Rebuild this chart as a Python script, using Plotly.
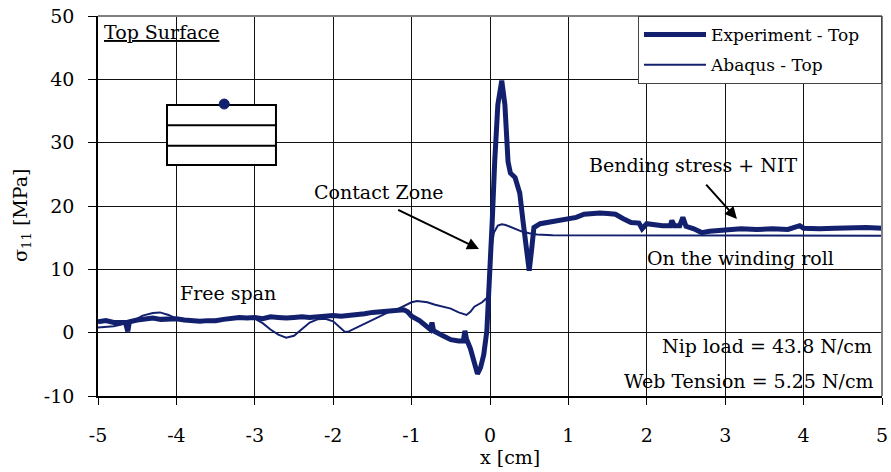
import plotly.graph_objects as go

# ---- data ----
exp_x = [-5.0, -4.9, -4.8, -4.7, -4.65, -4.62, -4.6, -4.5, -4.4, -4.3, -4.2, -4.1, -4.0,
         -3.9, -3.8, -3.7, -3.6, -3.5, -3.4, -3.3, -3.2, -3.1, -3.0, -2.9, -2.8, -2.7,
         -2.6, -2.5, -2.4, -2.3, -2.2, -2.1, -2.0, -1.9, -1.8, -1.7, -1.6, -1.5, -1.4,
         -1.3, -1.2, -1.1, -1.05, -1.0, -0.9, -0.8, -0.76, -0.74, -0.72, -0.6, -0.5,
         -0.4, -0.34, -0.32, -0.3, -0.25, -0.2, -0.16, -0.12, -0.08, -0.04, 0.0, 0.03,
         0.06, 0.1, 0.15, 0.19, 0.23, 0.26, 0.32, 0.38, 0.42, 0.47, 0.5, 0.53, 0.56,
         0.64, 0.75, 0.9, 1.0, 1.1, 1.2, 1.3, 1.4, 1.5, 1.6, 1.7, 1.8, 1.9, 1.94, 2.0,
         2.1, 2.2, 2.3, 2.32, 2.35, 2.42, 2.46, 2.5, 2.6, 2.7, 2.8, 2.9, 3.0, 3.2, 3.4,
         3.6, 3.8, 3.95, 4.0, 4.2, 4.4, 4.6, 4.8, 5.0]
exp_y = [1.7, 1.9, 1.6, 1.7, 1.6, 0.2, 1.7, 2.0, 2.1, 2.3, 2.1, 2.2, 2.2,
         2.0, 1.9, 1.8, 1.9, 1.9, 2.1, 2.3, 2.4, 2.3, 2.4, 2.2, 2.5, 2.4,
         2.3, 2.4, 2.5, 2.4, 2.5, 2.6, 2.7, 2.6, 2.7, 2.9, 3.0, 3.2, 3.3,
         3.4, 3.5, 3.6, 3.3, 2.6, 1.9, 0.9, 0.5, 1.6, 0.3, -0.5, -1.1,
         -1.3, -1.3, 0.3, -1.0, -2.5, -4.5, -6.5, -5.5, -3.5, 0.3, 9.5, 18.0,
         27.0, 36.0, 39.8, 36.0, 27.0, 25.2, 24.5, 22.0, 17.7, 12.5, 9.8, 13.0, 16.6,
         17.2, 17.4, 17.7, 18.0, 18.2, 18.7, 18.8, 18.9, 18.8, 18.7, 18.0, 17.4, 17.3, 16.4, 17.2,
         17.0, 16.9, 16.9, 17.7, 16.9, 16.9, 18.2, 16.8, 16.4, 15.8, 16.0, 16.1, 16.2, 16.4, 16.3,
         16.4, 16.3, 16.9, 16.5, 16.4, 16.5, 16.6, 16.6, 16.5]

abq_x = [-5.0, -4.8, -4.7, -4.6, -4.5, -4.43, -4.3, -4.21, -4.1, -4.0, -3.9, -3.8, -3.6,
         -3.4, -3.2, -3.0, -2.9, -2.8, -2.7, -2.6, -2.5, -2.4, -2.3, -2.2, -2.1, -2.0,
         -1.9, -1.85, -1.8, -1.7, -1.6, -1.5, -1.4, -1.3, -1.2, -1.1, -1.0, -0.93, -0.8,
         -0.7, -0.6, -0.5, -0.4, -0.35, -0.3, -0.25, -0.2, -0.1, -0.03, 0.0, 0.05, 0.1,
         0.15, 0.2, 0.3, 0.4, 0.5, 0.6, 0.8, 1.0, 2.0, 3.0, 4.0, 5.0]
abq_y = [0.8, 1.0, 1.3, 1.7, 2.2, 2.7, 3.1, 3.2, 2.8, 2.2, 1.9, 1.8, 1.9,
         2.1, 2.3, 2.2, 1.5, 0.5, -0.3, -0.8, -0.5, 0.6, 1.6, 2.1, 2.2, 1.8,
         0.7, 0.1, 0.2, 0.8, 1.5, 2.1, 2.7, 3.2, 3.6, 4.2, 4.8, 5.0, 4.8,
         4.4, 4.1, 3.8, 3.2, 3.0, 2.8, 3.3, 4.1, 4.8, 5.6, 12.0, 15.8, 16.9,
         17.1, 17.0, 16.5, 16.0, 15.7, 15.5, 15.4, 15.4, 15.4, 15.4, 15.3, 15.3]

x_ticks = [-5, -4, -3, -2, -1, 0, 1, 2, 3, 4, 5]
x_labels = ["-5", "-4", "-3", "-2", "-1", "0", "1", "2", "3", "4", "5"]
y_ticks = [-10, 0, 10, 20, 30, 40, 50]
y_labels = ["-10", "0", "10", "20", "30", "40", "50"]

NAVY = "#13206e"
FONT = "DejaVu Serif"
FS = 19
PAD = "\u00a0" * 3  # right padding inside the legend box

fig = go.Figure()
fig.add_trace(go.Scatter(x=exp_x, y=exp_y, mode="lines", name="Experiment - Top" + PAD,
                         legendgroup="a", line=dict(color=NAVY, width=5)))
fig.add_trace(go.Scatter(x=abq_x, y=abq_y, mode="lines", name="Abaqus - Top",
                         legendgroup="b", line=dict(color=NAVY, width=2)))

fig.update_layout(
    width=891, height=472,
    margin=dict(l=98, r=9, t=16, b=76),
    paper_bgcolor="white", plot_bgcolor="white",
    font=dict(family=FONT, size=FS, color="black"),
    showlegend=True,
    legend=dict(x=1, y=1, xanchor="right", yanchor="top",
                bgcolor="white", bordercolor="#444", borderwidth=1,
                font=dict(family=FONT, size=17), tracegroupgap=5,
                itemwidth=62),
    xaxis=dict(range=[-5, 5], tickvals=x_ticks, ticktext=x_labels,
               showgrid=True, gridcolor="#111", gridwidth=1, zeroline=False,
               showline=True, linecolor="black", linewidth=1.5,
               ticks="outside", ticklen=7, tickcolor="black",
               ticklabelstandoff=14, automargin=False),
    yaxis=dict(range=[-10, 50], tickvals=y_ticks, ticktext=y_labels,
               showgrid=True, gridcolor="#111", gridwidth=1, zeroline=False,
               showline=True, linecolor="black", linewidth=1.5,
               ticks="outside", ticklen=8, tickcolor="black",
               ticklabelstandoff=10, automargin=False),
)

shapes = [
    dict(type="line", xref="paper", yref="paper", x0=0, x1=1, y0=1, y1=1,
         line=dict(color="#808080", width=2)),
    dict(type="line", xref="paper", yref="paper", x0=1, x1=1, y0=0, y1=1,
         line=dict(color="#808080", width=2)),
    dict(type="rect", xref="x", yref="y", x0=-4.12, x1=-2.73, y0=26.48, y1=35.95,
         line=dict(color="black", width=2), fillcolor="white"),
    dict(type="line", xref="x", yref="y", x0=-4.12, x1=-2.73, y0=32.75, y1=32.75,
         line=dict(color="black", width=2)),
    dict(type="line", xref="x", yref="y", x0=-4.12, x1=-2.73, y0=29.53, y1=29.53,
         line=dict(color="black", width=2)),
    dict(type="circle", xref="x", yref="y", x0=-3.39 - 0.064, x1=-3.39 + 0.064,
         y0=36.1 - 0.79, y1=36.1 + 0.79, line=dict(color=NAVY, width=1), fillcolor=NAVY),
]
fig.update_layout(shapes=shapes)

def txt(x, y, s, xanchor="center", xref="x", yref="y", **kw):
    return dict(x=x, y=y, xref=xref, yref=yref, text=s, showarrow=False,
                xanchor=xanchor, yanchor="middle",
                font=dict(family=FONT, size=FS, color="black"), **kw)

annotations = [
    txt(-4.95, 47.5, "<u>Top Surface</u>", xanchor="left"),
    txt(-1.41, 22.2, "Contact Zone"),
    txt(2.59, 26.5, "Bending stress + NIT"),
    txt(3.19, 11.8, "On the winding roll"),
    txt(-3.34, 6.27, "Free span"),
    txt(4.9, -2.1, "Nip load = 43.8 N/cm", xanchor="right"),
    txt(4.92, -7.6, "Web Tension = 5.25 N/cm", xanchor="right"),
    dict(x=-0.14, y=13.2, ax=-1.19, ay=19.5, xref="x", yref="y", axref="x", ayref="y",
         showarrow=True, arrowhead=2, arrowsize=1.2, arrowwidth=2, arrowcolor="black", text=""),
    dict(x=3.15, y=17.95, ax=2.74, ay=23.6, xref="x", yref="y", axref="x", ayref="y",
         showarrow=True, arrowhead=2, arrowsize=1.2, arrowwidth=2, arrowcolor="black", text=""),
    dict(x=(21 - 98) / 784, y=(396 - 216) / 380, xref="paper", yref="paper",
         text="σ<sub>11</sub> [MPa]", showarrow=False, textangle=-90,
         xanchor="center", yanchor="middle", font=dict(family=FONT, size=FS, color="black")),
    dict(x=(510 - 98) / 784, y=(396 - 457) / 380, xref="paper", yref="paper",
         text="x [cm]", showarrow=False,
         xanchor="center", yanchor="middle", font=dict(family=FONT, size=FS, color="black")),
]
fig.update_layout(annotations=annotations)

fig.write_html("out.html")
